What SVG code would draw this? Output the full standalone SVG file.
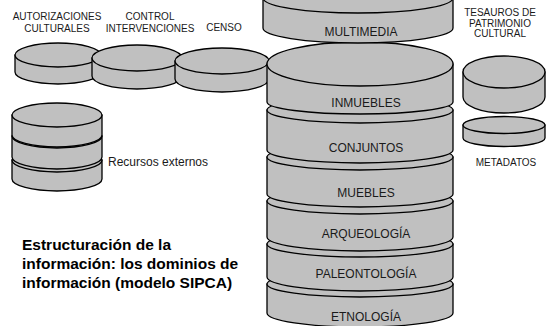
<svg xmlns="http://www.w3.org/2000/svg" width="547" height="326" viewBox="0 0 547 326">
<style>
.c{fill:#c0c0c0;stroke:#000;stroke-width:1.3;stroke-linejoin:round}
.t{font-family:"Liberation Sans",Arial,sans-serif;fill:#1a1a1a;text-anchor:middle}
.s10{font-size:10px}
.s12{font-size:12px}
.b{font-family:"Liberation Sans",Arial,sans-serif;font-weight:bold;font-size:15.5px;fill:#000}
</style>
<rect width="547" height="326" fill="#fff"/>
<g id="connectors"></g>

<g id="autorizaciones">
<path class="c" d="M15,55 V72 A43 12 0 0 0 101,72 V55 Z"/>
<ellipse class="c" cx="58" cy="55" rx="43" ry="12"/>
<text class="t s10" x="57" y="20">AUTORIZACIONES</text>
<text class="t s10" x="57" y="32">CULTURALES</text>
</g>
<g id="control">
<path class="c" d="M92,58 V76 A45 13 0 0 0 182,76 V58 Z"/>
<ellipse class="c" cx="137" cy="58" rx="45" ry="13"/>
<text class="t s10" x="150" y="20">CONTROL</text>
<text class="t s10" x="150" y="32">INTERVENCIONES</text>
</g>
<g id="censo">
<path class="c" d="M175,61 V79 A47 13 0 0 0 269,79 V61 Z"/>
<ellipse class="c" cx="222" cy="61" rx="47" ry="13"/>
<text class="t s10" x="224" y="31">CENSO</text>
</g>

<g id="recursos">
<path class="c" d="M12,160 V179 A45 12 0 0 0 102,179 V160 Z"/>
<ellipse class="c" cx="57" cy="160" rx="45" ry="12"/>
<path class="c" d="M12,136 V157 A45 12 0 0 0 102,157 V136 Z"/>
<ellipse class="c" cx="57" cy="136" rx="45" ry="12"/>
<path class="c" d="M12,115 V135 A45 12 0 0 0 102,135 V115 Z"/>
<ellipse class="c" cx="57" cy="115" rx="45" ry="12"/>
<text class="t s12" x="108" y="166" style="text-anchor:start">Recursos externos</text>
</g>

<g id="etnologia">
<path class="c" d="M267,284 V313 A93 14 0 0 0 453,313 V284 Z"/>
<ellipse class="c" cx="360" cy="284" rx="93" ry="13"/>
<text class="t s12" x="366" y="321">ETNOLOGÍA</text>
</g>
<g id="paleontologia">
<path class="c" d="M267,244 V277 A93 14 0 0 0 453,277 V244 Z"/>
<ellipse class="c" cx="360" cy="244" rx="93" ry="13"/>
<text class="t s12" x="366" y="278">PALEONTOLOGÍA</text>
</g>
<g id="arqueologia">
<path class="c" d="M267,201 V237 A93 14 0 0 0 453,237 V201 Z"/>
<ellipse class="c" cx="360" cy="201" rx="93" ry="13"/>
<text class="t s12" x="366" y="238">ARQUEOLOGÍA</text>
</g>
<g id="muebles">
<path class="c" d="M267,157 V194 A93 13 0 0 0 453,194 V157 Z"/>
<ellipse class="c" cx="360" cy="157" rx="93" ry="13"/>
<text class="t s12" x="366" y="197">MUEBLES</text>
</g>
<g id="conjuntos">
<path class="c" d="M267,110 V150 A93 13 0 0 0 453,150 V110 Z"/>
<ellipse class="c" cx="360" cy="110" rx="93" ry="13"/>
<text class="t s12" x="366" y="152">CONJUNTOS</text>
</g>
<g id="inmuebles">
<path class="c" d="M267,64 V102 A93 12 0 0 0 453,102 V64 Z"/>
<ellipse class="c" cx="360" cy="64" rx="93" ry="22"/>
<text class="t s12" x="366" y="107">INMUEBLES</text>
</g>
<g id="multimedia">
<path class="c" d="M263,-2 V28 A95 15 0 0 0 453,28 V-2 Z"/>
<ellipse class="c" cx="358" cy="-2" rx="95" ry="15"/>
<text class="t s12" x="361" y="36">MULTIMEDIA</text>
</g>

<g id="metadatos">
<path class="c" d="M463,125 V138 A41 8.5 0 0 0 545,138 V125 Z"/>
<ellipse class="c" cx="504" cy="125" rx="41" ry="8.5"/>
<text class="t s10" x="506" y="166">METADATOS</text>
</g>
<g id="tesauros">
<path class="c" d="M463,72 V97 A41 16 0 0 0 545,97 V72 Z"/>
<ellipse class="c" cx="504" cy="72" rx="41" ry="16"/>
<text class="t s10" x="500" y="16">TESAUROS DE</text>
<text class="t s10" x="500" y="27">PATRIMONIO</text>
<text class="t s10" x="500" y="37">CULTURAL</text>
</g>

<g id="caption">
<text class="b" x="22" y="250">Estructuración de la</text>
<text class="b" x="22" y="269">información: los dominios de</text>
<text class="b" x="22" y="288">información (modelo SIPCA)</text>
</g>
</svg>
